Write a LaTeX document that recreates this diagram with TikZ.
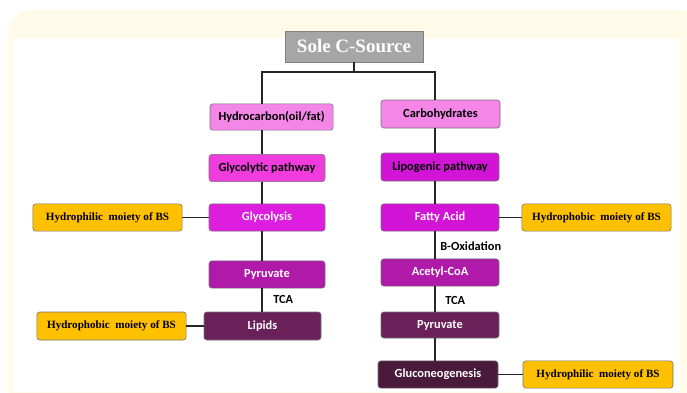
\documentclass[tikz,border=0pt]{standalone}
\usepackage{fontspec}
\setmainfont{Liberation Serif}
\newfontfamily\cali{Carlito}
\usetikzlibrary{positioning}

\definecolor{cream}{HTML}{FFFBE8}
\definecolor{srcgray}{HTML}{A6A6A6}
\definecolor{pinklt}{HTML}{F486E8}
\definecolor{pinkmd}{HTML}{F03CDC}
\definecolor{magdk}{HTML}{D214D6}
\definecolor{magmd}{HTML}{DE1EDE}
\definecolor{purp}{HTML}{B01AA8}
\definecolor{plum}{HTML}{6A2058}
\definecolor{plumdk}{HTML}{4A1A3C}
\definecolor{gold}{HTML}{FFC000}

\tikzset{
  box/.style={draw=black!55,rounded corners=2pt,align=center,inner sep=2pt,
    font=\cali\bfseries\fontsize{8.8}{10}\selectfont,minimum width=2.9cm,minimum height=0.68cm},
  moiety/.style={draw=black!55,rounded corners=2pt,fill=gold,inner sep=2pt,
    font=\bfseries\fontsize{7.9}{9}\selectfont,minimum width=3.73cm,minimum height=0.68cm},
  steplabel/.style={font=\cali\bfseries\fontsize{8.8}{10}\selectfont,anchor=west,inner sep=0pt},
  link/.style={line width=0.8pt,black!85}
}

\begin{document}
\begin{tikzpicture}
\useasboundingbox (0,0) rectangle (17.175,-9.8);
% backdrop
\fill[cream,rounded corners=0.6cm] (0.2,-0.25) rectangle (17.6,-10.3);
\fill[white] (0.325,-0.95) rectangle (17.0,-9.8);

\node[draw=black!50,fill=srcgray,text=white,font=\bfseries\fontsize{13.5}{15}\selectfont,minimum width=3.45cm,minimum height=0.775cm,inner sep=2pt] (src) at (8.85,-1.1625) {Sole C-Source};

% left branch
\node[box,fill=pinklt,minimum width=3.08cm,minimum height=0.66cm] (hc) at (6.79,-2.925) {Hydrocarbon(oil/fat)};
\node[box,fill=pinkmd] (gp) at (6.675,-4.2) {Glycolytic pathway};
\node[box,fill=magmd,text=white] (gl) at (6.675,-5.4375) {Glycolysis};
\node[box,fill=purp,text=white] (py1) at (6.675,-6.8625) {Pyruvate};
\node[box,fill=plum,text=white,minimum width=2.925cm,minimum height=0.7cm] (li) at (6.5625,-8.15) {Lipids};
\node[moiety] (hl1) at (2.6875,-5.4375) {Hydrophilic \ moiety of BS};
\node[moiety,minimum height=0.7cm] (ho2) at (2.7875,-8.15) {Hydrophobic \ moiety of BS};

% right branch
\node[box,fill=pinklt,minimum width=2.975cm,minimum height=0.7cm] (cb) at (11.0125,-2.85) {Carbohydrates};
\node[box,fill=magdk,minimum width=2.95cm,minimum height=0.7cm] (lp) at (11.0,-4.175) {Lipogenic pathway};
\node[box,fill=magdk,text=white,minimum width=2.95cm] (fa) at (11.0,-5.4375) {Fatty Acid};
\node[box,fill=purp,text=white,minimum width=2.95cm] (ac) at (11.0,-6.8125) {Acetyl-CoA};
\node[box,fill=plum,text=white,minimum width=2.95cm,minimum height=0.65cm] (py2) at (11.0,-8.125) {Pyruvate};
\node[box,fill=plumdk,text=white,minimum width=3.0cm] (gn) at (10.95,-9.3625) {Gluconeogenesis};
\node[moiety] (ho1) at (14.9125,-5.4375) {Hydrophobic \ moiety of BS};
\node[moiety,minimum width=3.75cm] (hl2) at (14.95,-9.3625) {Hydrophilic \ moiety of BS};

\coordinate (lx) at (6.55,0);
\coordinate (rx) at (10.875,0);
\coordinate (bar) at (8.85,-1.8);

% connectors
\draw[link] (src.south) -- (bar);
\draw[link] (hc.north -| lx) |- (bar) -| (cb.north -| rx);
\draw[link] (hc.south -| lx) -- (gp.north -| lx);
\draw[link] (gp.south -| lx) -- (gl.north -| lx);
\draw[link] (gl.south -| lx) -- (py1.north -| lx);
\draw[link] (py1.south -| lx) -- (li.north -| lx);
\draw[link] (cb.south -| rx) -- (lp.north -| rx);
\draw[link] (lp.south -| rx) -- (fa.north -| rx);
\draw[link] (fa.south -| rx) -- (ac.north -| rx);
\draw[link] (ac.south -| rx) -- (py2.north -| rx);
\draw[link] (py2.south -| rx) -- (gn.north -| rx);
\draw[link] (hl1) -- (gl);
\draw[link] (ho2) -- (li);
\draw[link] (fa) -- (ho1);
\draw[link] (gn) -- (hl2);

% step labels
\node[steplabel] (box1) at (11.0,-6.15) {B-Oxidation};
\node[steplabel] (tca1) at (6.825,-7.475) {TCA};
\node[steplabel] (tca2) at (11.125,-7.5) {TCA};
\end{tikzpicture}
\end{document}
